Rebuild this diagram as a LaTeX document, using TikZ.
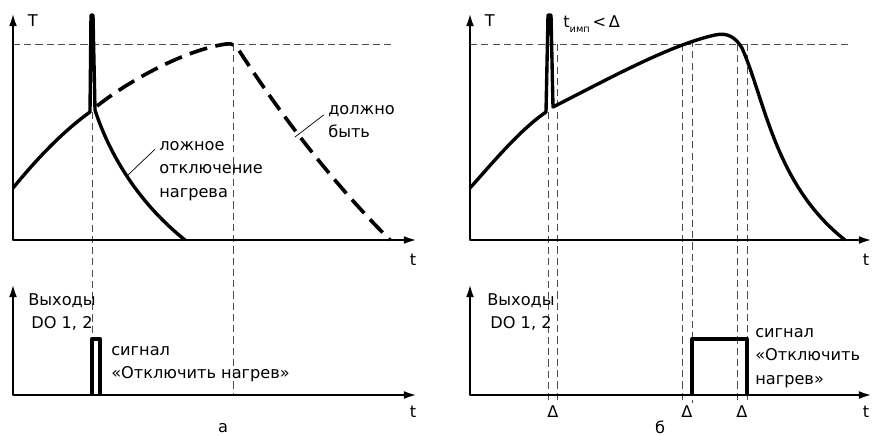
\documentclass[tikz,border=0pt]{standalone}
\usepackage{fontspec}
\setmainfont{DejaVu Sans}
\usetikzlibrary{arrows.meta}

\begin{document}
\begin{tikzpicture}[x=0.025cm,y=-0.025cm,font=\fontsize{11.5}{16.8}\selectfont,
    >={Latex[length=10pt,width=5.5pt]},line join=round,
    axis/.style={line width=2pt,<->},
    guide/.style={line width=0.6pt,black!70,dash pattern=on 5pt off 3pt},
    tcurve/.style={line width=2.4pt},
    tdash/.style={line width=2.6pt,dash pattern=on 13pt off 6pt},
    lead/.style={line width=0.5pt},
    lbl/.style={inner sep=0pt,align=left}]
  \useasboundingbox (0,0) rectangle (875,435);

  % --- a: temperature
  \draw[guide] (13,44) -- (392,44);
  \draw[guide] (92,112) -- (92,339);
  \draw[guide] (233,44) -- (233,395);
  \draw[tdash] (97,106) .. controls (130,80) and (185,50) .. (226,44)
    .. controls (232,43) and (236,45) .. (240,52)
    .. controls (268,95) and (320,170) .. (390,240);
  \draw[tcurve] (13,188) .. controls (40,155) and (65,130) .. (90,112)
    -- (91,15) -- (93,15) -- (95,110) .. controls (108,150) and (135,200) .. (185,240);
  \draw[axis] (13,12) |- (418,240);
  \node[anchor=west] (Ta) at (23,21) {T};
  \node (t1a) at (413,260) {t};
  \node[lbl,anchor=north west] (lozh) at (159,141) {ложное\\отключение\\нагрева};
  \node[lbl,anchor=north west] (dolzh) at (328,105) {должно\\быть};
  \coordinate (fa) at (128,175);
  \coordinate (sa) at (295,137);
  \draw[lead] ([xshift=-3pt,yshift=-6pt]lozh.north west) -- (fa);
  \draw[lead] ([xshift=-3pt,yshift=-7pt]dolzh.north west) -- (sa);

  % --- a: outputs
  \draw[axis] (13,283) |- (418,395);
  \draw[tcurve] (92,395) -- (92,339) -- (100,339) -- (100,395);
  \node (t2a) at (413,412) {t};
  \node[inner sep=0pt,align=center] (outa) at (62,312) {Выходы\\DO 1, 2};
  \node[lbl,anchor=north west] (siga) at (111,346) {сигнал\\«Отключить нагрев»};
  \node (capa) at (223,428) {а};

  % --- b: temperature
  \draw[guide] (470,44) -- (848,44);
  \draw[guide] (548,112) -- (548,403);
  \draw[guide] (692,40) -- (692,403);
  \foreach \gx in {557,682,737,747}
    \draw[guide] (\gx,44) -- (\gx,403);
  \draw[tcurve] (470,188) .. controls (495,160) and (520,130) .. (546,112)
    -- (548,15) -- (551,15) -- (553,107) .. controls (610,78) and (670,45) .. (715,35)
    .. controls (728,32) and (736,38) .. (742,48) .. controls (765,100) and (775,185) .. (845,240);
  \draw[axis] (470,12) |- (873,240);
  \node[anchor=west] (Tb) at (480,21) {T};
  \node[anchor=base west,inner sep=0pt] (timp) at (563,27) {t\raisebox{-0.6ex}{\scriptsize имп}\,<\,Δ};
  \node (t1b) at (866,260) {t};

  % --- b: outputs
  \draw[axis] (470,283) |- (873,395);
  \draw[tcurve] (692,395) -- (692,339) -- (747,339) -- (747,395);
  \node (t2b) at (866,412) {t};
  \node[inner sep=0pt,align=center] (outb) at (521,312) {Выходы\\DO 1, 2};
  \node[lbl,anchor=north west] (sigb) at (755,328) {сигнал\\«Отключить\\нагрев»};
  \node (d1) at (553,412) {Δ};
  \node (d2) at (687,412) {Δ};
  \node (d3) at (742,412) {Δ};
  \node (capb) at (660,427) {б};
\end{tikzpicture}
\end{document}
